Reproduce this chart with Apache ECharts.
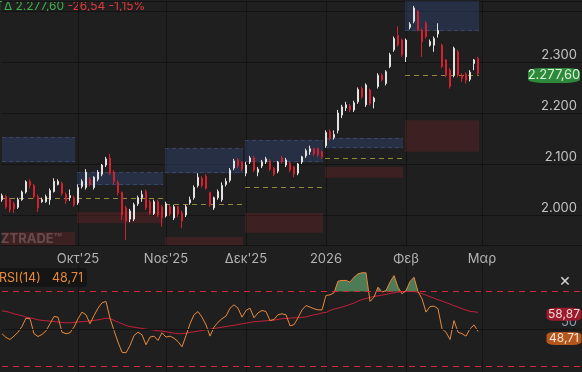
<!DOCTYPE html>
<html><head><meta charset="utf-8">
<script src="https://cdn.jsdelivr.net/npm/echarts@6/dist/echarts.min.js"></script>
<style>html,body{margin:0;padding:0;background:#1f1f1f;}#c{width:582px;height:372px;}</style>
</head><body><div id="c"></div>
<script>
// ---------- categories (trading days) ----------
const startDate = '2025-09-04';
const holidays = ['2025-10-28','2025-12-24','2025-12-25','2025-12-26','2026-01-01','2026-01-06','2026-02-23','2026-03-25'];
const categoryCount = 146;
const tickDates = ['2025-10-01','2025-11-03','2025-12-01','2026-01-02','2026-02-02','2026-03-02'];
const tickLabels = ["Οκτ'25","Νοε'25","Δεκ'25","2026","Φεβ","Μαρ"];
const priceLabels = [2000,2100,2200,2300];
const rsiLabels = [50];

// ---------- price series ----------
const opens = [2030,2036,2030,2022,2015,2030,2045,2066,2058,2036,
 2026,2026,2030,2046,2060,2062,2040,2034,2034,2024,
 2056,2054,2070,2054,2070,2080,2098,2112,2084,2064,
 2044,2014,1992,1992,2022,2034,2046,2026,2003,2026,
 2016,1998,2016,1994,2016,2004,2000,2024,2034,2058,
 2072,2076,2044,2014,2034,2030,2060,2068,2092,2108,
 2104,2082,2104,2112,2084,2096,2104,2106,2092,2086,
 2112,2098,2102,2094,2082,2104,2116,2124,2130,2130,
 2124,2136,2164,2152,2166,2196,2210,2214,2206,2222,
 2248,2216,2245,2222,2252,2274,2258,2291,2324,2352,
 2343,2310,2368,2380,2399,2362,2376,2333,2333,2355,
 2333,2304,2284,2274,2320,2274,2276,2266,2297,2307];
const closes = [2038,2016,2010,2012,2030,2045,2065,2058,2036,2014,
 2030,2036,2048,2066,2066,2042,2028,2038,2020,2054,
 2066,2084,2060,2074,2084,2098,2110,2082,2066,2044,
 2000,1988,2008,2020,2034,2040,2014,2004,2026,2000,
 1994,2022,2002,2016,2002,1988,2016,2030,2054,2074,
 2058,2052,2020,2034,2046,2058,2066,2088,2106,2096,
 2090,2098,2112,2088,2090,2104,2110,2090,2080,2104,
 2104,2108,2088,2080,2100,2114,2126,2130,2120,2118,
 2114,2162,2150,2158,2200,2212,2216,2206,2220,2246,
 2232,2255,2219,2229,2274,2265,2281,2314,2346,2334,
 2314,2343,2374,2406,2363,2340,2350,2340,2346,2362,
 2291,2274,2252,2327,2274,2268,2264,2280,2304.14,2277.6];
const lows = [2026,2012,2005,2004,2012,2028,2042,2052,2032,2006,
 2024,2024,2020,2044,2058,2038,2022,2028,2016,2020,
 2052,2050,2056,2050,2066,2076,2094,2078,2060,2038,
 1990,1951,1986,1988,2018,2026,2010,2000,2000,1996,
 1977,1995,1998,1990,1996,1974,1996,2020,2030,2054,
 2054,2050,2016,2010,2030,2026,2056,2064,2088,2092,
 2086,2076,2100,2084,2076,2092,2100,2086,2076,2082,
 2100,2094,2084,2074,2078,2100,2112,2118,2116,2114,
 2110,2132,2146,2148,2160,2190,2204,2202,2202,2218,
 2228,2212,2215,2209,2248,2262,2254,2288,2320,2330,
 2310,2300,2364,2376,2360,2310,2346,2330,2320,2348,
 2288,2270,2248,2270,2270,2261,2258,2262,2284,2274];
const highs = [2042,2040,2034,2026,2034,2048,2068,2070,2061,2040,
 2034,2040,2052,2072,2070,2065,2044,2050,2038,2060,
 2070,2090,2074,2076,2088,2100,2114,2120,2088,2068,
 2046,2018,2012,2024,2038,2048,2050,2030,2030,2030,
 2020,2026,2020,2020,2018,2008,2020,2036,2058,2082,
 2076,2080,2046,2036,2050,2064,2072,2092,2110,2112,
 2106,2104,2116,2116,2094,2108,2114,2110,2094,2106,
 2116,2112,2104,2096,2102,2116,2130,2136,2132,2132,
 2126,2166,2168,2166,2206,2216,2222,2218,2224,2250,
 2252,2258,2248,2232,2278,2278,2284,2318,2350,2370,
 2346,2346,2378,2410,2402,2366,2380,2344,2350,2376,
 2336,2306,2288,2330,2324,2278,2280,2284,2306,2310];

// ---------- RSI ----------
const rsi = [47.5,45.5,44.4,46.2,48.3,51.4,55.8,55.5,47.5,46.0,
 47.1,49.0,52.8,56.7,56.3,48.3,47.5,48.0,51.0,55.5,
 59.0,57.6,52.8,57.2,61.1,64.0,64.7,55.8,49.2,43.0,
 37.6,37.3,41.2,46.5,48.3,46.9,41.6,45.7,46.2,43.9,
 48.0,45.7,46.2,45.1,43.3,40.5,46.5,52.8,57.6,59.3,
 56.3,52.2,46.2,51.0,53.6,55.5,56.9,61.1,62.9,61.1,
 56.3,59.9,61.1,56.0,58.6,59.9,59.3,54.5,55.1,57.6,
 58.1,57.6,51.7,52.3,56.0,60.2,62.5,61.7,60.8,60.2,
 60.2,67.9,68.2,69.3,75.5,75.9,75.9,75.0,77.6,79.4,
 80.0,80.0,64.7,67.0,72.3,69.7,70.5,75.0,78.5,72.3,
 68.8,70.5,75.3,77.6,70.0,66.1,59.0,62.0,62.2,60.8,
 50.1,48.3,44.4,54.5,48.3,47.5,46.2,50.1,52.2,48.71];
const rsiMa = [59.7,59.4,58.8,58.1,57.6,57.1,56.3,56.0,55.5,54.9,
 54.6,54.4,54.2,54.0,53.7,53.5,53.3,53.3,53.5,53.7,
 53.9,54.0,54.4,54.6,54.9,55.3,55.8,55.5,54.6,53.7,
 52.8,51.9,51.3,51.0,50.6,50.3,49.9,49.7,49.4,49.0,
 48.9,48.5,48.2,47.8,47.5,47.5,47.8,48.2,48.5,48.9,
 49.2,49.6,49.9,50.3,50.6,51.0,51.3,51.7,52.0,52.4,
 52.8,53.1,53.5,53.9,54.0,54.2,54.4,54.6,54.7,55.1,
 55.5,55.6,55.8,56.0,56.0,56.2,56.5,57.1,57.6,57.9,
 58.6,58.8,59.9,60.6,61.1,61.7,62.4,63.1,63.8,64.9,
 65.7,66.3,66.8,67.4,67.7,68.1,68.4,69.0,69.3,69.7,
 69.9,69.9,70.0,70.0,69.5,68.8,68.1,67.2,66.5,65.6,
 64.9,64.1,63.3,62.4,61.7,60.8,60.1,59.4,59.2,58.87];
const rsiLevels = [70, 30];
const rsiMid = 50;

// ---------- monthly zones ----------
const zoneStart = [0, 19, 41, 61, 81, 101];
const zoneEnd   = [18, 40, 60, 80, 100, 119];
const blueLow  = [2104, 2059, 2082, 2104, 2131, 2361];
const blueHigh = [2153, 2084, 2131, 2147, 2151, 2440];
const redLow   = [1930, 1984, 1930, 1965, 2073, 2124];
const redHigh  = [1967, 2006, 1957, 2004, 2094, 2186];
const pivot    = [2033, 2033, 2022, 2055, 2112, 2274];

// ---------- helpers ----------
function buildDates(){
  const out=[]; const d=new Date(startDate+'T00:00:00Z');
  while(out.length<categoryCount){
    const day=d.getUTCDay(); const s=d.toISOString().slice(0,10);
    if(day!==0&&day!==6&&holidays.indexOf(s)<0) out.push(s);
    d.setUTCDate(d.getUTCDate()+1);
  }
  return out;
}
function fmt(n,dec){
  const s=Math.abs(n).toFixed(dec); const parts=s.split('.');
  const i=parts[0].replace(/\B(?=(\d{3})+(?!\d))/g,'.');
  return (n<0?'-':'')+i+(parts[1]?','+parts[1]:'');
}
const cats = buildDates();
const lastCat = cats[cats.length-1];
const ohlc = opens.map((o,i)=>[o, closes[i], lows[i], highs[i]]);
const last = closes[closes.length-1], prev = closes[closes.length-2];
const chg = last-prev, pct = chg/prev*100;

const zoneData=[]; const pivotData=[];
for(let k=0;k<zoneStart.length;k++){
  zoneData.push([zoneStart[k], zoneEnd[k], blueLow[k], blueHigh[k], 0]);
  zoneData.push([zoneStart[k], zoneEnd[k], redLow[k], redHigh[k], 1]);
  pivotData.push([zoneStart[k], zoneEnd[k], pivot[k]]);
}

const GRID='#131313';
const FONT='Inter';
const isTick=(idx,val)=>tickDates.indexOf(val)>=0;

const chart = echarts.init(document.getElementById('c'), null, {width:582, height:372});
chart.setOption({
  animation:false,
  backgroundColor:'#1f1f1f',
  textStyle:{fontFamily:FONT},
  grid:[
    {left:2, right:0, top:0.8, height:244.8, containLabel:false, outerBoundsMode:'none'},
    {left:2, right:0, top:265.25, height:108.75, containLabel:false, outerBoundsMode:'none'}
  ],
  xAxis:[
    {type:'category', gridIndex:0, data:cats, boundaryGap:false,
     axisLine:{show:true, lineStyle:{color:GRID}}, axisTick:{show:false},
     axisLabel:{interval:isTick, formatter:v=>tickLabels[tickDates.indexOf(v)]||'', color:'#b3b3b3', fontSize:13, margin:7, fontFamily:FONT},
     splitLine:{show:true, interval:isTick, lineStyle:{color:GRID, width:1}}},
    {type:'category', gridIndex:1, data:cats, boundaryGap:false,
     axisLine:{show:false}, axisTick:{show:false}, axisLabel:{show:false},
     splitLine:{show:true, interval:isTick, lineStyle:{color:GRID, width:1}}}
  ],
  yAxis:[
    {type:'value', gridIndex:0, position:'right', min:1940, max:2420,
     axisLine:{show:false}, axisTick:{show:false},
     axisLabel:{inside:true, margin:5, verticalAlign:'bottom', color:'#c4c4c4', fontSize:13, fontFamily:FONT,
       formatter:v=>priceLabels.indexOf(v)>=0?fmt(v,0):''},
     splitLine:{show:true, lineStyle:{color:GRID, width:1}}},
    {type:'value', gridIndex:1, position:'right', min:26, max:84,
     axisLine:{show:false}, axisTick:{show:false},
     axisLabel:{inside:true, margin:5, verticalAlign:'bottom', color:'#8d9cba', fontSize:13, fontFamily:FONT,
       formatter:v=>rsiLabels.indexOf(v)>=0?String(v):''},
     splitLine:{show:false}}
  ],
  series:[
    {type:'custom', name:'zones', xAxisIndex:0, yAxisIndex:0, z:1, clip:true, silent:true,
     data:zoneData,
     renderItem:function(params, api){
       const s=api.value(0), e=api.value(1), lo=api.value(2), hi=api.value(3), kind=api.value(4);
       const bw=api.size([1,0])[0];
       const p1=api.coord([s,hi]), p2=api.coord([e,lo]);
       const cs=params.coordSys;
       const r=echarts.graphic.clipRectByRect(
         {x:p1[0]-bw/2+1, y:p1[1], width:(p2[0]-p1[0])+bw-2, height:p2[1]-p1[1]},
         {x:cs.x, y:cs.y, width:cs.width, height:cs.height});
       if(!r) return;
       const ch=[{type:'rect', shape:r, style:{fill: kind===0?'rgba(55,82,145,0.33)':'rgba(140,38,44,0.27)'}}];
       if(kind===0){
         const st={stroke:'rgba(95,125,185,0.32)', fill:null, lineWidth:1, lineDash:[4,3]};
         if(p1[1]>=cs.y) ch.push({type:'line', shape:{x1:r.x, y1:Math.round(p1[1])+0.5, x2:r.x+r.width, y2:Math.round(p1[1])+0.5}, style:st});
         if(p2[1]<=cs.y+cs.height) ch.push({type:'line', shape:{x1:r.x, y1:Math.round(p2[1])-0.5, x2:r.x+r.width, y2:Math.round(p2[1])-0.5}, style:st});
       }
       return {type:'group', children:ch};
     }},
    {type:'custom', name:'pivot', xAxisIndex:0, yAxisIndex:0, z:2, clip:true, silent:true,
     data:pivotData,
     renderItem:function(params, api){
       const s=api.value(0), e=api.value(1), p=api.value(2);
       const bw=api.size([1,0])[0];
       const a=api.coord([s,p]), b=api.coord([e,p]);
       return {type:'line', shape:{x1:a[0]-bw/2+1, y1:Math.round(a[1])+0.5, x2:b[0]+bw/2-1, y2:Math.round(a[1])+0.5},
         style:{stroke:'#978838', fill:null, lineWidth:1, lineDash:[5,4]}};
     }},
    {type:'candlestick', name:'ΓΔ', xAxisIndex:0, yAxisIndex:0, z:3, data:ohlc, barWidth:2.4,
     itemStyle:{color:'#e2e2e2', color0:'#d1222d', borderColor:'#e2e2e2', borderColor0:'#d1222d', borderWidth:1},
     markPoint:{silent:true, animation:false,
       data:[{coord:[lastCat, last], value:last}],
       symbol:'roundRect', symbolSize:[52,15], symbolOffset:[-28,2],
       itemStyle:{color:'#2c8a3a'},
       label:{show:true, position:'inside', formatter:()=>fmt(last,2), color:'#d9f2d9', fontSize:13, fontFamily:FONT}}},
    {type:'custom', name:'rsiFill', xAxisIndex:1, yAxisIndex:1, z:1, silent:true, clip:true,
     data:rsi.map((v,i)=>[i,v]),
     renderItem:function(params, api){
       if(params.dataIndex!==0) return;
       const lvl=rsiLevels[0];
       const yl=api.coord([0,lvl])[1];
       const pts=rsi.map((v,i)=>api.coord([i,v]));
       const poly=[[pts[0][0], yl]];
       for(let i=0;i<pts.length;i++){
         if(i>0){
           const a=rsi[i-1], b=rsi[i];
           if((a-lvl)*(b-lvl)<0){
             const t=(lvl-a)/(b-a);
             poly.push([pts[i-1][0]+(pts[i][0]-pts[i-1][0])*t, yl]);
           }
         }
         poly.push([pts[i][0], Math.min(pts[i][1], yl)]);
       }
       poly.push([pts[pts.length-1][0], yl]);
       return {type:'polygon', shape:{points:poly}, style:{fill:'rgba(86,140,96,0.85)', stroke:null}};
     }},
    {type:'line', name:'rsiMa', xAxisIndex:1, yAxisIndex:1, data:rsiMa, showSymbol:false, silent:true, z:2,
     lineStyle:{color:'#c21f3b', width:1}, itemStyle:{color:'#c21f3b'},
     markPoint:{silent:true, data:[{coord:[lastCat, rsiMa[rsiMa.length-1]]}],
       symbol:'roundRect', symbolSize:[35,13], symbolOffset:[-18,2],
       itemStyle:{color:'#9a1b2b'},
       label:{show:true, position:'inside', formatter:()=>fmt(rsiMa[rsiMa.length-1],2), color:'#f3d6d6', fontSize:12, fontFamily:FONT}}},
    {type:'line', name:'rsi', xAxisIndex:1, yAxisIndex:1, data:rsi, showSymbol:false, silent:true, z:3,
     lineStyle:{color:'#e8893a', width:1}, itemStyle:{color:'#e8893a'},
     markLine:{silent:true, symbol:['none','none'], label:{show:false}, animation:false,
       data:[
         {yAxis:rsiLevels[0], lineStyle:{color:'#d8263d', type:[6,5], width:1}},
         {yAxis:rsiLevels[1], lineStyle:{color:'#d8263d', type:[6,5], width:1}},
         {yAxis:rsiMid, lineStyle:{color:GRID, type:'solid', width:1}}
       ]},
     markPoint:{silent:true, data:[{coord:[lastCat, rsi[rsi.length-1]]}],
       symbol:'roundRect', symbolSize:[35,13], symbolOffset:[-18,7],
       itemStyle:{color:'#b4561d'},
       label:{show:true, position:'inside', formatter:()=>fmt(rsi[rsi.length-1],2), color:'#f7e3d3', fontSize:12, fontFamily:FONT}}}
  ],
  graphic:[
    {type:'text', x:-2, y:6.5, silent:true, style:{
      text:'{g|ΓΔ '+fmt(last,2)+'} {r|'+fmt(chg,2)+' '+fmt(pct,2)+'%}',
      verticalAlign:'middle',
      rich:{g:{fill:'#3fae4b', fontSize:12, fontFamily:FONT}, r:{fill:'#e03b3d', fontSize:12, fontFamily:FONT}}}},
    {type:'text', x:62, y:239, silent:true, style:{text:'ZTRADE™', align:'right', verticalAlign:'middle',
      fill:'rgba(255,255,255,0.26)', fontSize:13, fontWeight:'bold', fontFamily:FONT}},
    {type:'rect', silent:true, shape:{x:-5, y:268, width:92, height:19, r:4}, style:{fill:'#151515'}},
    {type:'text', x:-1, y:278, silent:true, style:{text:'RSI(14)', verticalAlign:'middle', fill:'#e8893a', fontSize:12.5, fontFamily:FONT}},
    {type:'text', x:52, y:278, silent:true, style:{text:fmt(rsi[rsi.length-1],2), verticalAlign:'middle', fill:'#e8893a', fontSize:12.5, fontFamily:FONT}},
    {type:'text', x:565, y:281, silent:true, style:{text:'×', align:'center', verticalAlign:'middle', fill:'#d0d0d0', fontSize:18, fontFamily:FONT}}
  ]
});
</script></body></html>
